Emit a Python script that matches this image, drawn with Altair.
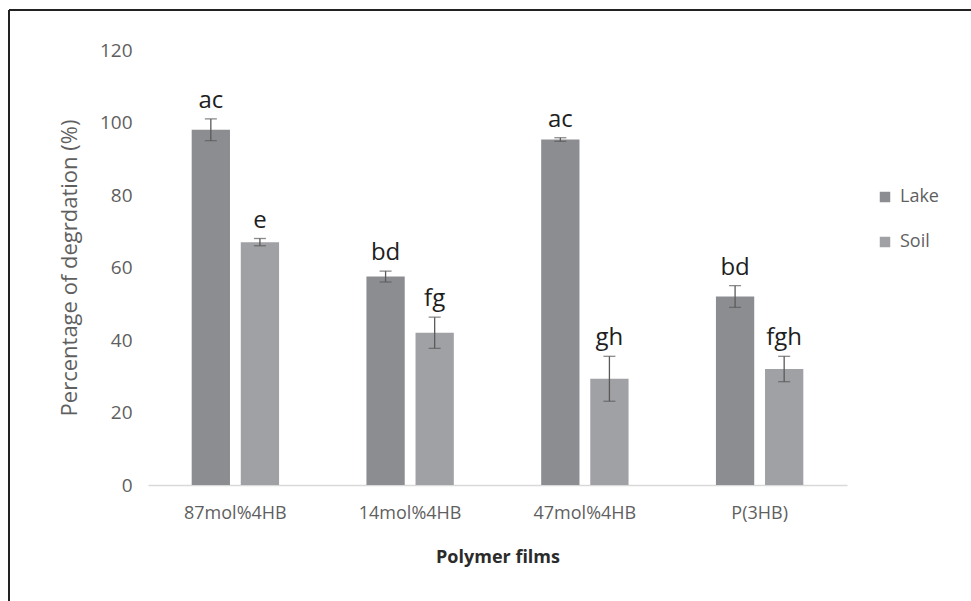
import altair as alt
import pandas as pd

films = ["87mol%4HB", "14mol%4HB", "47mol%4HB", "P(3HB)"]
lake_vals = [98.0, 57.5, 95.3, 52.0]
lake_err = [3.0, 1.5, 0.5, 3.0]
lake_letters = ["ac", "bd", "ac", "bd"]
soil_vals = [67.0, 42.0, 29.3, 32.0]
soil_err = [1.0, 4.3, 6.2, 3.5]
soil_letters = ["e", "fg", "gh", "fgh"]
media = ["Lake", "Soil"]
colors = ["#8c8d91", "#a0a1a5"]

rows = []
for i, f in enumerate(films):
    rows.append({"film": f, "medium": "Lake", "value": lake_vals[i], "err": lake_err[i], "letter": lake_letters[i]})
    rows.append({"film": f, "medium": "Soil", "value": soil_vals[i], "err": soil_err[i], "letter": soil_letters[i]})
df = pd.DataFrame(rows)
df["lo"] = df["value"] - df["err"]
df["hi"] = df["value"] + df["err"]

FONT = "Open Sans"
W, H = 699, 435

x_enc = alt.X("film:N", sort=films, title="Polymer films",
              scale=alt.Scale(paddingInner=0.5, paddingOuter=0.25),
              axis=alt.Axis(labelAngle=0, labelFontSize=18, labelColor="#5f5f5f",
                            labelPadding=19, ticks=False, domainColor="#d9d9d9",
                            domainWidth=1.5, titleFontSize=18, titleFontWeight="bold",
                            titleColor="#2b2b2b", titlePadding=26, labelFont=FONT, titleFont=FONT))
xoff = alt.XOffset("medium:N", sort=media, scale=alt.Scale(paddingInner=0.22))
y_scale = alt.Scale(domain=[0, 120])

base = alt.Chart(df)

bars = base.mark_bar().encode(
    x=x_enc,
    xOffset=xoff,
    y=alt.Y("value:Q", scale=y_scale, title="Percentage of degrdation (%)",
            axis=alt.Axis(values=[0, 20, 40, 60, 80, 100, 120], domain=False, ticks=False,
                          grid=False, labelFontSize=19, labelColor="#5f5f5f", labelPadding=16,
                          titleFontSize=22, titleColor="#5f5f5f", titleFontWeight="normal",
                          titlePadding=18, labelFont=FONT, titleFont=FONT)),
    color=alt.Color("medium:N", sort=media, scale=alt.Scale(domain=media, range=colors),
                    legend=alt.Legend(title=None, orient="none", legendX=728, legendY=138,
                                      symbolType="square", symbolSize=110, symbolStrokeWidth=0,
                                      labelFontSize=18, labelColor="#5f5f5f", labelFont=FONT,
                                      rowPadding=27, labelOffset=6)),
)

rules = base.mark_rule(color="#5a5a5a", strokeWidth=1.3).encode(
    x=alt.X("film:N", sort=films), xOffset=xoff,
    y=alt.Y("lo:Q", scale=y_scale), y2="hi:Q")

caps_hi = base.mark_tick(color="#5a5a5a", thickness=1.3, size=12).encode(
    x=alt.X("film:N", sort=films), xOffset=xoff, y=alt.Y("hi:Q", scale=y_scale))
caps_lo = base.mark_tick(color="#5a5a5a", thickness=1.3, size=12).encode(
    x=alt.X("film:N", sort=films), xOffset=xoff, y=alt.Y("lo:Q", scale=y_scale))

labels = base.mark_text(fontSize=24, font=FONT, color="#1e1e1e", baseline="alphabetic", dy=-11).encode(
    x=alt.X("film:N", sort=films), xOffset=xoff, y=alt.Y("hi:Q", scale=y_scale), text="letter:N")

border_top = alt.Chart(df).mark_rule(color="#222222", strokeWidth=2).encode(
    x=alt.value(-139), x2=alt.value(W + 130), y=alt.value(-40))
border_left = alt.Chart(df).mark_rule(color="#222222", strokeWidth=2).encode(
    x=alt.value(-139), y=alt.value(-40), y2=alt.value(H + 130))

chart = alt.layer(bars, rules, caps_hi, caps_lo, labels, border_top, border_left).properties(
    width=W, height=H,
    autosize=alt.AutoSizeParams(type="none"),
    padding={"left": 148, "top": 50, "right": 124, "bottom": 116},
).configure(background="white").configure_view(strokeWidth=0, stroke="transparent")

chart.save("out.html", embed_options={"renderer": "svg", "actions": False})
